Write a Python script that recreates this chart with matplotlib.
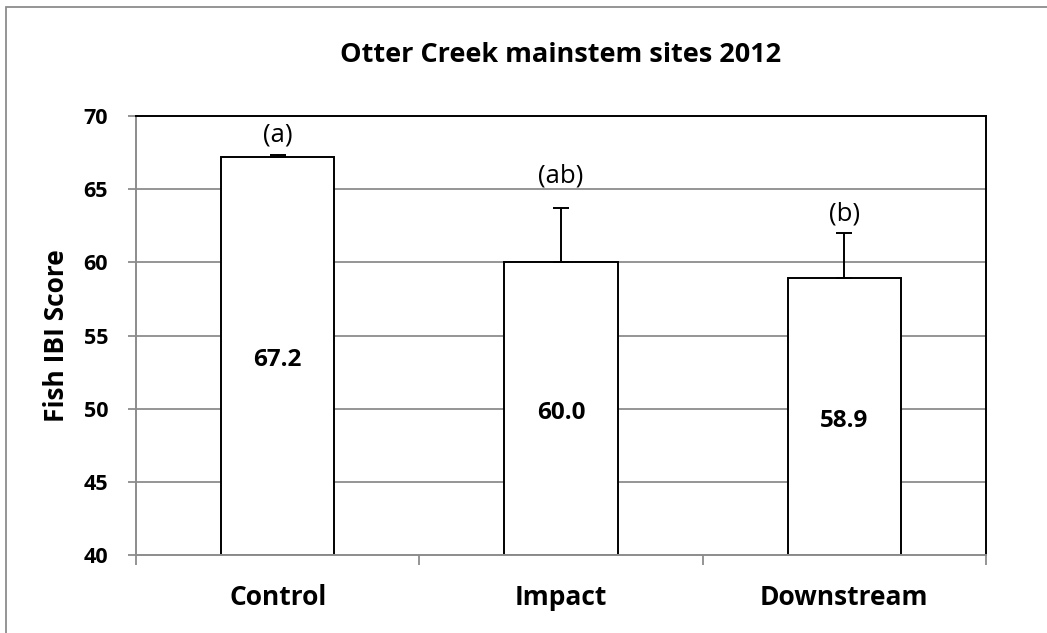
import matplotlib
matplotlib.use('Agg')
import matplotlib.pyplot as plt
from matplotlib.patches import Rectangle

sites = ["Control", "Impact", "Downstream"]
ibi_mean = [67.2, 60.0, 58.9]
ibi_err = [0.15, 3.7, 3.1]
sig_letters = ["(a)", "(ab)", "(b)"]
letter_y = [68.7, 65.9, 63.3]
yticks = [40, 45, 50, 55, 60, 65, 70]

FONT = ['Open Sans', 'DejaVu Sans']
GRID_GRAY = '#8c8c8c'

plt.rcParams['font.family'] = FONT

fig = plt.figure(figsize=(10.47, 6.33), dpi=100, facecolor='white')

# chart-area border (only top/left edges fall inside the canvas)
fig.add_artist(Rectangle((6 / 1047, -0.05), 1.1, (633 - 7) / 633 + 0.05,
                         transform=fig.transFigure, fill=False,
                         edgecolor='#8c8c8c', linewidth=1.3))

ax = fig.add_axes([136 / 1047, 78 / 633, (986 - 136) / 1047, (555 - 116) / 633])
ax.set_xlim(-0.5, 2.5)
ax.set_ylim(40, 70)

for y in yticks[1:-1]:
    ax.axhline(y, color=GRID_GRAY, linewidth=1.3, zorder=0)

x = range(len(sites))
ax.bar(x, [m - 40 for m in ibi_mean], bottom=40, width=0.4,
       color='white', edgecolor='black', linewidth=1.4, zorder=2)
ax.errorbar(x, ibi_mean, yerr=[[0] * 3, ibi_err], fmt='none',
            ecolor='black', elinewidth=1.4, capsize=6, capthick=1.4, zorder=3)

for i, (m, lab, ly) in enumerate(zip(ibi_mean, sig_letters, letter_y)):
    ax.text(i, (40 + m) / 2 - 0.3, f"{m:.1f}", ha='center', va='center',
            fontsize=17.5, fontweight='bold', zorder=4)
    ax.text(i, ly, lab, ha='center', va='center', fontsize=18.5, zorder=4)

ax.spines['top'].set_color('black')
ax.spines['right'].set_color('black')
ax.spines['left'].set_color(GRID_GRAY)
ax.spines['bottom'].set_color(GRID_GRAY)
for s in ax.spines.values():
    s.set_linewidth(1.4)

ax.set_yticks(yticks)
ax.set_yticklabels([str(t) for t in yticks], fontsize=15.5, fontweight='bold')
ax.tick_params(axis='y', length=6, width=1.3, color=GRID_GRAY, pad=14)

ax.set_xticks([-0.5, 0.5, 1.5, 2.5])
ax.set_xticklabels([])
ax.tick_params(axis='x', length=7, width=1.3, color=GRID_GRAY)
for i, s in enumerate(sites):
    ax.text(i, -0.097, s, transform=ax.get_xaxis_transform(), ha='center',
            va='center', fontsize=19, fontweight='bold')

ax.set_ylabel("Fish IBI Score", fontsize=19, fontweight='bold', labelpad=10)
fig.text((136 + 986) / 2 / 1047, 1 - 55 / 633, "Otter Creek mainstem sites 2012",
         ha='center', va='center', fontsize=19.5, fontweight='bold')

fig.savefig('out.png', dpi=100, facecolor='white')
